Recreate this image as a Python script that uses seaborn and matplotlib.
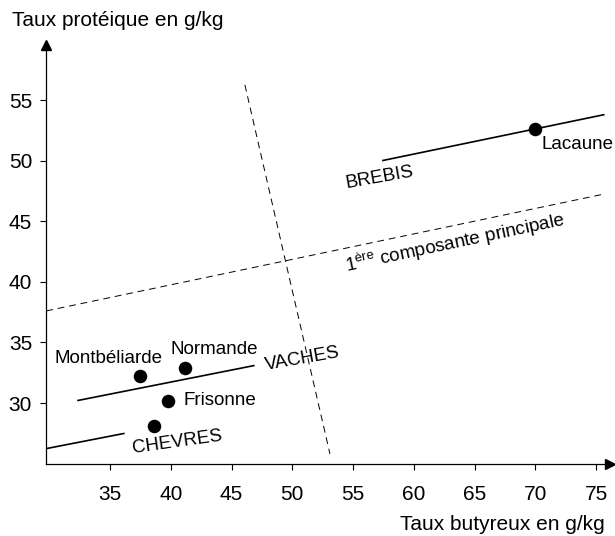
import numpy as np
import pandas as pd
import matplotlib
matplotlib.use("Agg")
import matplotlib.pyplot as plt
import seaborn as sns

# breeds (points)
races = ["Montbéliarde", "Normande", "Frisonne", "Chèvre", "Lacaune"]
tb = [37.45, 41.2, 39.8, 38.6, 70.0]      # taux butyreux g/kg
tp = [32.2, 32.9, 30.15, 28.1, 52.6]      # taux protéique g/kg
race_labels = ["Montbéliarde", "Normande", "Frisonne", "", "Lacaune"]
race_label_x = [34.85, 43.6, 44.0, 0, 73.5]
race_label_y = [33.7, 34.45, 30.25, 0, 51.3]

# species regression segments
brebis_x, brebis_y = [57.4, 75.7], [50.0, 53.8]
vaches_x, vaches_y = [32.3, 46.9], [30.2, 33.1]
chevres_x, chevres_y = [29.8, 36.2], [26.25, 27.5]

# principal components (dashed)
pc1_x, pc1_y = [29.75, 75.7], [37.6, 47.25]
pc2_x, pc2_y = [46.1, 53.1], [56.25, 25.8]

x_ticks = [35, 40, 45, 50, 55, 60, 65, 70, 75]
y_ticks = [30, 35, 40, 45, 50, 55]

sns.set_style("ticks")
plt.rcParams['font.family'] = ['Liberation Sans', 'DejaVu Sans']
plt.rcParams['mathtext.default'] = 'regular'
plt.rcParams['text.color'] = 'black'

fig = plt.figure(figsize=(6.15, 5.36), dpi=100)
ax = fig.add_axes([46 / 615, (536 - 464) / 536, (610 - 46) / 615, (464 - 45) / 536])

df = pd.DataFrame({"tb": tb, "tp": tp, "race": races})

ax.plot(pc1_x, pc1_y, color="black", lw=0.7, ls=(0, (7, 5)))
ax.plot(pc2_x, pc2_y, color="black", lw=0.7, ls=(0, (7, 5)))
for xs, ys in [(brebis_x, brebis_y), (vaches_x, vaches_y), (chevres_x, chevres_y)]:
    ax.plot(xs, ys, color="black", lw=1.2, solid_capstyle="butt")

sns.scatterplot(data=df, x="tb", y="tp", color="black", s=95, edgecolor="black",
                linewidth=0, ax=ax, zorder=3, legend=False)

fs = 13.5
for lab, lx, ly in zip(race_labels, race_label_x, race_label_y):
    if lab:
        ax.text(lx, ly, lab, ha="center", va="center", fontsize=fs, color="black")

ax.text(57.2, 48.6, "BREBIS", ha="center", va="center", fontsize=fs, rotation=10)
ax.text(50.8, 33.6, "VACHES", ha="center", va="center", fontsize=fs, rotation=10)
ax.text(40.5, 26.8, "CHEVRES", ha="center", va="center", fontsize=fs, rotation=8)
ax.text(63.4, 43.2, "1$^{ère}$ composante principale", ha="center", va="center",
        fontsize=fs, rotation=12)

ax.set_xlim(29.73, 76.15)
ax.set_ylim(24.97, 59.54)
ax.set_xticks(x_ticks)
ax.set_yticks(y_ticks)
ax.tick_params(labelsize=15, length=4, width=0.8, colors="black")
ax.tick_params(axis="x", pad=11)
ax.tick_params(axis="y", pad=6)
ax.set_xlabel("")
ax.set_ylabel("")
sns.despine(ax=ax)
for sp in ["left", "bottom"]:
    ax.spines[sp].set_linewidth(0.9)
    ax.spines[sp].set_color("black")

# arrow heads on the axes
ax.plot(1, 0, marker=">", color="black", ms=7, transform=ax.transAxes, clip_on=False)
ax.plot(0, 1, marker="^", color="black", ms=7, transform=ax.transAxes, clip_on=False)

fig.text(12 / 615, 1 - 21 / 536, "Taux protéique en g/kg", ha="left", va="center", fontsize=15)
fig.text(605 / 615, 1 - 524 / 536, "Taux butyreux en g/kg", ha="right", va="center", fontsize=15)

fig.savefig("out.png", dpi=100)
